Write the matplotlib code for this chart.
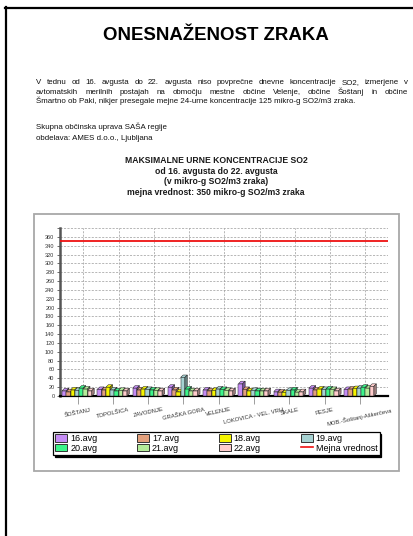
import numpy as np
import matplotlib
matplotlib.use('Agg')
import matplotlib.pyplot as plt
from matplotlib.patches import Polygon, Rectangle, Patch
from matplotlib.lines import Line2D
import warnings
warnings.filterwarnings('ignore')

# --- data -------------------------------------------------------------
stations = ['ŠOŠTANJ', 'TOPOLŠICA', 'ZAVODNJE', 'GRAŠKA GORA', 'VELENJE',
            'LOKOVICA - VEL. VRH', 'ŠKALE', 'PESJE', 'MOB.-Šoštanj-Aškerčeva']
days = ['16.avg', '17.avg', '18.avg', '19.avg', '20.avg', '21.avg', '22.avg']
v16 = [12, 15, 18, 20, 14, 28, 10, 18, 15]
v17 = [10, 14, 14, 14, 12, 15, 9, 14, 16]
v18 = [14, 20, 16, 10, 13, 12, 8, 16, 17]
v19 = [13, 14, 15, 42, 16, 13, 13, 15, 18]
v20 = [18, 12, 14, 16, 15, 12, 14, 16, 20]
v21 = [16, 13, 13, 12, 13, 12, 9, 15, 18]
v22 = [12, 12, 12, 12, 12, 12, 10, 12, 22]
series = [v16, v17, v18, v19, v20, v21, v22]
colors = ['#c58cf5', '#e3a07c', '#f5f500', '#a6d2d2', '#3cf58a', '#b4ec9a', '#ffcccc']
limit = 350
yticks = list(range(0, 381, 20))

title = 'ONESNAŽENOST ZRAKA'
para = ['V tednu od 16. avgusta do 22. avgusta niso povprečne dnevne koncentracije SO2, izmerjene v',
        'avtomatskih merilnih postajah na območju mestne občine Velenje, občine Šoštanj in občine',
        'Šmartno ob Paki, nikjer presegale mejne 24-urne koncentracije 125 mikro-g SO2/m3 zraka.']
source = ['Skupna občinska uprava SAŠA regije', 'obdelava: AMES d.o.o., Ljubljana']
chart_title = ['MAKSIMALNE URNE KONCENTRACIJE SO2', 'od 16. avgusta do 22. avgusta',
               '(v mikro-g SO2/m3 zraka)', 'mejna vrednost: 350 mikro-g SO2/m3 zraka']

# --- figure -----------------------------------------------------------
W, H = 414, 536
fig = plt.figure(figsize=(W / 100, H / 100), dpi=100)
arial = ['Liberation Sans', 'DejaVu Sans']


def fx(x):
    return x / W


def fy(y):
    return 1 - y / H


def fit_size(s, target, weight='normal'):
    t = fig.text(0, 0, s, fontsize=10, family=arial, weight=weight)
    w = t.get_window_extent(fig.canvas.get_renderer()).width
    t.remove()
    return 10 * target / w


def justified(line, x0, x1, y, size):
    words = line.split()
    arts = [fig.text(0, 0, w, fontsize=size, family=arial, va='baseline', color='#111111')
            for w in words]
    r = fig.canvas.get_renderer()
    widths = [a.get_window_extent(r).width for a in arts]
    gap = (x1 - x0 - sum(widths)) / (len(words) - 1)
    x = x0
    for a, w in zip(arts, widths):
        a.set_position((fx(x), fy(y)))
        x += w + gap


# page border (left and top)
fig.add_artist(Line2D([fx(6), fx(6)], [fy(7), 0], color='black', lw=1.6))
fig.add_artist(Line2D([fx(5), 1], [fy(7.5), fy(7.5)], color='black', lw=1.6))

fig.text(fx(216), fy(36), title, family=arial, weight='bold',
         fontsize=fit_size(title, 225, 'bold'), ha='center', va='center')

psize = fit_size(para[2], 322)
justified(para[0], 36, 408, 84, psize)
justified(para[1], 36, 408, 93.7, psize)
for s, y in [(para[2], 103.3), (source[0], 129), (source[1], 140)]:
    fig.text(fx(36), fy(y), s, fontsize=psize, family=arial, va='baseline', color='#111111')

csize = fit_size(chart_title[0], 182, 'bold')
for s, y in zip(chart_title, [160.7, 171, 181.3, 192.5]):
    fig.text(fx(216), fy(y), s, fontsize=csize, family=arial, weight='bold',
             ha='center', va='center', color='#1a1a1a')

# chart frame
fig.add_artist(Rectangle((fx(34), fy(471)), fx(399) - fx(34), fy(214) - fy(471),
                         transform=fig.transFigure, fill=False, edgecolor='#a8a8a8', lw=1.3))

# --- plot -------------------------------------------------------------
ax = fig.add_axes([fx(60), fy(396), fx(388) - fx(60), fy(228) - fy(396)])
ax.set_xlim(-0.5, 8.8)
ax.set_ylim(0, 380)

bw = 0.12
dx, dy = 0.07, 5.5
x = np.arange(len(stations))
for j, (vals, c) in enumerate(zip(series, colors)):
    left = x - 0.44 + j * bw
    z = 3 + j * 0.01
    ax.bar(left, vals, width=bw, align='edge', color=c, edgecolor='#222222',
           lw=0.35, zorder=z)
    side = tuple(np.array(matplotlib.colors.to_rgb(c)) * 0.6)
    for l, h in zip(left, vals):
        r = l + bw
        ax.add_patch(Polygon([(l, h), (l + dx, h + dy), (r + dx, h + dy), (r, h)],
                             closed=True, facecolor=c, edgecolor='#222222', lw=0.35, zorder=z))
        ax.add_patch(Polygon([(r, 0), (r + dx, dy), (r + dx, h + dy), (r, h)],
                             closed=True, facecolor=side, edgecolor='#222222', lw=0.35, zorder=z))

ax.axhline(limit, color='#ee1111', lw=1.3, zorder=5)

ax.set_yticks(yticks)
ax.set_yticklabels([str(t) if t <= 360 else '' for t in yticks])
ax.set_xticks(x)
ax.set_xticklabels(stations, rotation=12, fontsize=4.2, family=arial, color='#333333')
ax.set_xticks(x + 0.16, minor=True)
ax.tick_params(axis='y', labelsize=4, length=2, pad=2, colors='#333333', width=0.5)
ax.tick_params(axis='x', which='major', length=6, width=0.5, color='#777777', pad=2)
ax.tick_params(axis='x', which='minor', length=0)
for lab in ax.get_yticklabels():
    lab.set_family(arial)
ax.grid(axis='y', which='major', color='#9a9a9a', ls=(0, (3, 2)), lw=0.5)
ax.grid(axis='x', which='minor', color='#9a9a9a', ls=(0, (3, 2)), lw=0.5)
ax.set_axisbelow(True)
for s in ['top', 'right']:
    ax.spines[s].set_visible(False)
ax.spines['left'].set_color('#555555')
ax.spines['left'].set_linewidth(1.8)
ax.spines['bottom'].set_color('black')
ax.spines['bottom'].set_linewidth(1.6)

# legend (filled column by column)
patches = [Patch(facecolor=c, edgecolor='#333333', lw=0.7) for c in colors]
red = Line2D([], [], color='#ee1111', lw=1.2)
order = [0, 4, 1, 5, 2, 6, 3]
handles = [patches[i] for i in order] + [red]
labels = [days[i] for i in order] + ['Mejna vrednost']
leg = fig.legend(handles, labels, ncol=4, loc='upper left',
                 bbox_to_anchor=(fx(53), fy(432)),
                 prop={'family': arial, 'size': 6.5},
                 frameon=True, fancybox=False,
                 shadow={'color': 'black', 'alpha': 1, 'ox': 1.4, 'oy': -1.4},
                 handlelength=1.35, handleheight=0.9, handletextpad=0.3,
                 columnspacing=4.4, labelspacing=0.05, borderpad=0.25, borderaxespad=0)
leg.get_frame().set_edgecolor('black')
leg.get_frame().set_linewidth(0.9)

fig.savefig('out.png', dpi=100)
